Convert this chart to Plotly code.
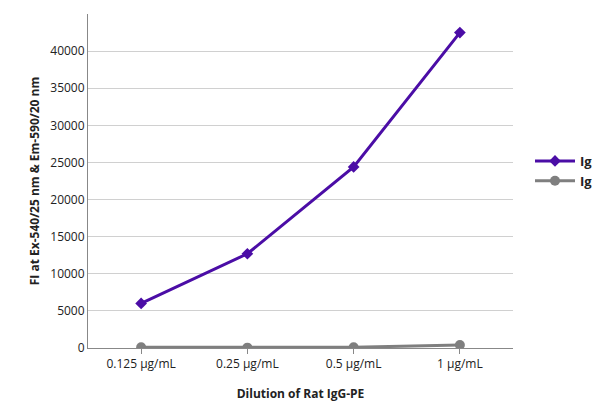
import plotly.graph_objects as go

categories = ["0.125 µg/mL", "0.25 µg/mL", "0.5 µg/mL", "1 µg/mL"]
igg = [6000, 12700, 24400, 42500]
igm = [100, 50, 100, 400]
y_ticks = [0, 5000, 10000, 15000, 20000, 25000, 30000, 35000, 40000, 45000]

fig = go.Figure()
fig.add_trace(go.Scatter(x=categories, y=igg, name="<b>IgG</b>", mode="lines+markers",
                         line=dict(color="#4B0DA6", width=3),
                         marker=dict(symbol="diamond", size=9, color="#4B0DA6")))
fig.add_trace(go.Scatter(x=categories, y=igm, name="<b>IgM</b>", mode="lines+markers",
                         line=dict(color="#7F7F7F", width=3),
                         marker=dict(symbol="circle", size=10, color="#7F7F7F")))

fig.update_layout(
    width=600, height=418,
    margin=dict(l=80, r=95, t=6, b=78, autoexpand=False),
    paper_bgcolor="white", plot_bgcolor="white",
    font=dict(family="Open Sans", size=12, color="#222"),
    legend=dict(x=1.04, y=0.53, yanchor="middle", font=dict(size=13, color="#222"),
                itemwidth=40, tracegroupgap=22),
    xaxis=dict(title=dict(text="<b>Dilution of Rat IgG-PE</b>", font=dict(size=12), standoff=18),
               showline=True, linecolor="#888", ticks="outside", tickcolor="#888", ticklen=5,
               range=[-0.5, 3.5]),
    yaxis=dict(title=dict(text="<b>FI at Ex-540/25 nm & Em-590/20 nm</b>", font=dict(size=12), standoff=8),
               range=[0, 45000], tickvals=y_ticks, ticktext=[str(v) for v in y_ticks],
               showgrid=True, gridcolor="#D0D0D0",
               showline=True, linecolor="#888", zeroline=False),
)
fig.write_html("out.html")
